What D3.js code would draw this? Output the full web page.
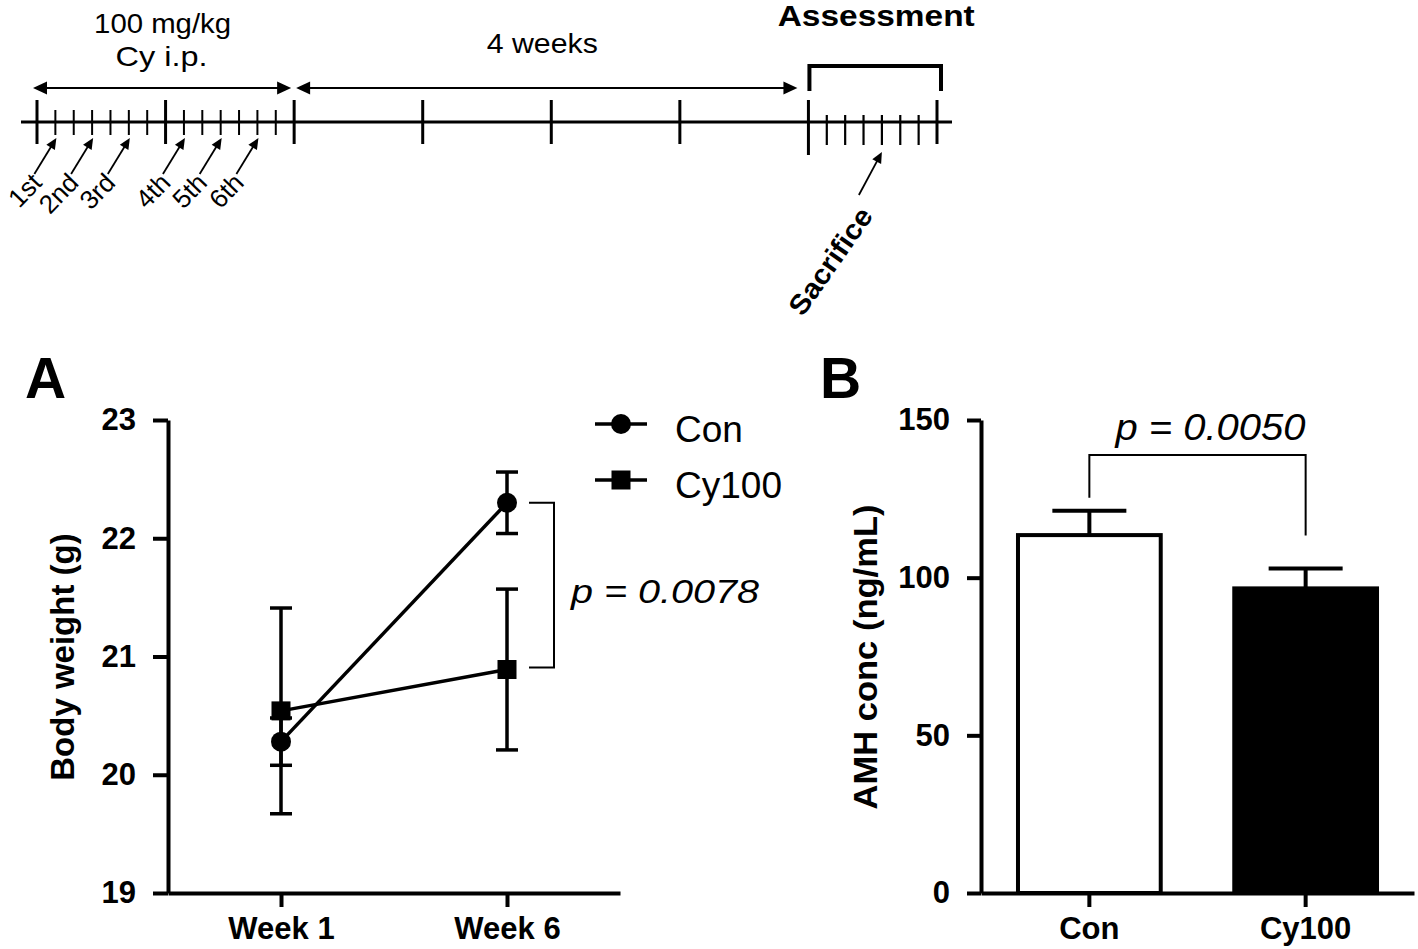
<!DOCTYPE html>
<html><head><meta charset="utf-8">
<script src="https://cdn.jsdelivr.net/npm/d3@7"></script>
<style>
body{margin:0;background:#fff}
svg{display:block}
text{font-family:"Liberation Sans",Arial,Helvetica,sans-serif;fill:#000}
</style>
</head><body>
<svg id="c" width="1418" height="949"></svg>
<script>
// ---------- Panel A data (body weight, mean ± SEM) ----------
const weeks = ["Week 1", "Week 6"];
const conMean = [20.28, 22.30];
const conSem = [0.20, 0.26];
const cyMean = [20.54, 20.89];
const cySem = [0.87, 0.68];
const yTicksA = [19, 20, 21, 22, 23];
const seriesNames = ["Con", "Cy100"];
const pTextA = "p = 0.0078";

// ---------- Panel B data (AMH conc, mean + SEM) ----------
const groups = ["Con", "Cy100"];
const amhMean = [113.5, 96.6];
const amhSem = [7.7, 6.3];
const yTicksB = [0, 50, 100, 150];
const pTextB = "p = 0.0050";

// ---------- Timeline (days) ----------
const totalDays = 49;
const weekDays = [0, 7, 14, 21, 28, 35, 42, 49];
const smallDays = [1, 2, 3, 4, 5, 6, 8, 9, 10, 11, 12, 13];
const assessDays = [43, 44, 45, 46, 47, 48];
const doseDays = [1, 3, 5, 8, 10, 12];
const doseLabels = ["1st", "2nd", "3rd", "4th", "5th", "6th"];
const sacrificeDay = 46;
const phaseCy = [0, 14];
const phaseWait = [14, 42];
const phaseAssess = [42, 49];

const svg = d3.select("#c");

// ================= TIMELINE =================
const T = svg.append("g");
const xT = d3.scaleLinear().domain([0, totalDays]).range([37, 937]);
const lineY = 122;

T.append("line").attr("x1", xT(0) - 16).attr("x2", xT(totalDays) + 15)
  .attr("y1", lineY).attr("y2", lineY).attr("stroke", "#000").attr("stroke-width", 3);

T.selectAll(".bt").data(weekDays).join("line")
  .attr("x1", d => xT(d)).attr("x2", d => xT(d))
  .attr("y1", 100).attr("y2", d => d === phaseAssess[0] ? 155 : 144)
  .attr("stroke", "#000").attr("stroke-width", 3);

T.selectAll(".st").data(smallDays).join("line")
  .attr("x1", d => xT(d)).attr("x2", d => xT(d))
  .attr("y1", 110).attr("y2", 135)
  .attr("stroke", "#000").attr("stroke-width", 2);

T.selectAll(".at").data(assessDays).join("line")
  .attr("x1", d => xT(d)).attr("x2", d => xT(d))
  .attr("y1", 115).attr("y2", 145)
  .attr("stroke", "#000").attr("stroke-width", 2.2);

function head(g, x, y, ang, len, hw) {
  const c = Math.cos(ang), s = Math.sin(ang);
  const bx = x - c * len, by = y - s * len;
  g.append("path")
    .attr("d", `M${x},${y}L${bx - s * hw},${by + c * hw}L${bx + s * hw},${by - c * hw}Z`)
    .attr("fill", "#000");
}
function dblArrow(x1, x2, y) {
  T.append("line").attr("x1", x1 + 8).attr("x2", x2 - 8).attr("y1", y).attr("y2", y)
    .attr("stroke", "#000").attr("stroke-width", 2);
  head(T, x1, y, Math.PI, 14, 6.5);
  head(T, x2, y, 0, 14, 6.5);
}
dblArrow(xT(phaseCy[0]) - 4, xT(phaseCy[1]) - 3, 88);
dblArrow(xT(phaseWait[0]) + 2, xT(phaseWait[1]) - 11, 88);

const midCy = (xT(phaseCy[0]) + xT(phaseCy[1])) / 2;
T.append("text").attr("x", midCy - 3).attr("y", 33).attr("text-anchor", "middle")
  .attr("font-size", 28).attr("textLength", 137).attr("lengthAdjust", "spacingAndGlyphs").text("100 mg/kg");
T.append("text").attr("x", midCy - 4).attr("y", 66).attr("text-anchor", "middle")
  .attr("font-size", 28).attr("textLength", 92).attr("lengthAdjust", "spacingAndGlyphs").text("Cy i.p.");
T.append("text").attr("x", (xT(phaseWait[0]) + xT(phaseWait[1])) / 2 - 9).attr("y", 53)
  .attr("text-anchor", "middle").attr("font-size", 28)
  .attr("textLength", 111).attr("lengthAdjust", "spacingAndGlyphs").text("4 weeks");

// Assessment bracket
const ax1 = xT(phaseAssess[0]) + 1, ax2 = xT(phaseAssess[1]) + 4;
T.append("path").attr("d", `M${ax1},91V66H${ax2}V91`)
  .attr("fill", "none").attr("stroke", "#000").attr("stroke-width", 4);
T.append("text").attr("x", (ax1 + ax2) / 2 + 1).attr("y", 26).attr("text-anchor", "middle")
  .attr("font-size", 30).attr("font-weight", "bold")
  .attr("textLength", 197).attr("lengthAdjust", "spacingAndGlyphs").text("Assessment");

// Dose arrows + labels
doseDays.forEach((d, i) => {
  const tx = xT(d) + 1, ty = 138;
  const sx = tx - 22, sy = 174;
  const ang = Math.atan2(ty - sy, tx - sx);
  T.append("line").attr("x1", sx).attr("y1", sy)
    .attr("x2", tx - Math.cos(ang) * 7).attr("y2", ty - Math.sin(ang) * 7)
    .attr("stroke", "#000").attr("stroke-width", 1.8);
  head(T, tx, ty, ang, 11, 5);
  T.append("text").attr("transform", `translate(${sx + 9},${sy + 10}) rotate(-46)`)
    .attr("text-anchor", "end").attr("font-size", 26).text(doseLabels[i]);
});

// Sacrifice arrow
{
  const tx = xT(sacrificeDay), ty = 152;
  const sx = tx - 23, sy = 195;
  const ang = Math.atan2(ty - sy, tx - sx);
  T.append("line").attr("x1", sx).attr("y1", sy)
    .attr("x2", tx - Math.cos(ang) * 8).attr("y2", ty - Math.sin(ang) * 8)
    .attr("stroke", "#000").attr("stroke-width", 1.8);
  head(T, tx, ty, ang, 11, 5);
  T.append("text").attr("transform", `translate(${sx + 15},${sy + 21}) rotate(-55)`)
    .attr("text-anchor", "end").attr("font-size", 28).attr("font-weight", "bold")
    .attr("textLength", 124).attr("lengthAdjust", "spacingAndGlyphs").text("Sacrifice");
}

// ================= PANEL A =================
const A = svg.append("g");
const yA = d3.scaleLinear().domain([19, 23]).range([893, 420]);
const xA = d3.scalePoint().domain(weeks).range([168, 620]).padding(0.5);

A.append("text").attr("x", 25).attr("y", 398).attr("font-size", 57).attr("font-weight", "bold").text("A");

const yAxA = A.append("g").attr("transform", "translate(168,0)")
  .call(d3.axisLeft(yA).tickValues(yTicksA).tickFormat(d3.format("d")).tickSize(15).tickSizeOuter(0).tickPadding(17));
const xAxA = A.append("g").attr("transform", "translate(0,893)")
  .call(d3.axisBottom(xA).tickSize(14).tickSizeOuter(0).tickPadding(10));
[yAxA, xAxA].forEach(g => {
  g.select(".domain").attr("stroke-width", 4).attr("stroke", "#000");
  g.selectAll(".tick line").attr("stroke-width", 4).attr("stroke", "#000");
  g.selectAll(".tick text").attr("font-family", '"Liberation Sans",Arial,sans-serif')
    .attr("font-weight", "bold").attr("fill", "#000");
});
yAxA.selectAll(".tick text").attr("font-size", 31);
xAxA.selectAll(".tick text").attr("font-size", 31).attr("dy", "0.72em");

A.append("text").attr("transform", "translate(74,657) rotate(-90)").attr("text-anchor", "middle")
  .attr("font-size", 33).attr("font-weight", "bold").text("Body weight (g)");

// error bars
function errA(means, sems) {
  weeks.forEach((w, i) => {
    const x = xA(w), lo = yA(means[i] - sems[i]), hi = yA(means[i] + sems[i]);
    A.append("line").attr("x1", x).attr("x2", x).attr("y1", lo).attr("y2", hi)
      .attr("stroke", "#000").attr("stroke-width", 3.5);
    [lo, hi].forEach(yy => A.append("line").attr("x1", x - 11).attr("x2", x + 11)
      .attr("y1", yy).attr("y2", yy).attr("stroke", "#000").attr("stroke-width", 3.5));
  });
}
errA(cyMean, cySem);
errA(conMean, conSem);

const lineGen = d3.line().x((d, i) => xA(weeks[i])).y(d => yA(d));
A.append("path").datum(cyMean).attr("d", lineGen).attr("fill", "none").attr("stroke", "#000").attr("stroke-width", 3.5);
A.append("path").datum(conMean).attr("d", lineGen).attr("fill", "none").attr("stroke", "#000").attr("stroke-width", 3.5);

A.selectAll(".sq").data(cyMean).join("rect")
  .attr("x", (d, i) => xA(weeks[i]) - 9.5).attr("y", d => yA(d) - 9.5)
  .attr("width", 19).attr("height", 19).attr("fill", "#000");
A.selectAll(".ci").data(conMean).join("circle")
  .attr("cx", (d, i) => xA(weeks[i])).attr("cy", d => yA(d)).attr("r", 10).attr("fill", "#000");

// significance bracket A
{
  const xb = xA(weeks[1]) + 22, xe = xb + 25;
  const y1 = yA(conMean[1]), y2 = yA(cyMean[1]) - 2;
  A.append("path").attr("d", `M${xb},${y1}H${xe}V${y2}H${xb}`)
    .attr("fill", "none").attr("stroke", "#000").attr("stroke-width", 2);
  A.append("text").attr("x", xe + 17).attr("y", (y1 + y2) / 2 + 18)
    .attr("font-size", 34).attr("font-style", "italic")
    .attr("textLength", 188).attr("lengthAdjust", "spacingAndGlyphs").text(pTextA);
}

// legend
seriesNames.forEach((n, i) => {
  const ly = 424 + i * 56;
  A.append("line").attr("x1", 595).attr("x2", 647).attr("y1", ly).attr("y2", ly)
    .attr("stroke", "#000").attr("stroke-width", 3.5);
  if (i === 0) A.append("circle").attr("cx", 621).attr("cy", ly).attr("r", 10).attr("fill", "#000");
  else A.append("rect").attr("x", 611.5).attr("y", ly - 9.5).attr("width", 19).attr("height", 19).attr("fill", "#000");
  A.append("text").attr("x", 675).attr("y", ly + 18).attr("font-size", 37).text(n);
});

// ================= PANEL B =================
const B = svg.append("g");
const yB = d3.scaleLinear().domain([0, 150]).range([893, 420]);
const xB = d3.scaleBand().domain(groups).range([981, 1414]).paddingInner(0.34).paddingOuter(0.171);

B.append("text").attr("x", 820).attr("y", 398).attr("font-size", 57).attr("font-weight", "bold").text("B");

B.selectAll(".bar").data(amhMean).join("rect")
  .attr("x", (d, i) => xB(groups[i])).attr("y", d => yB(d))
  .attr("width", xB.bandwidth()).attr("height", d => yB(0) - yB(d))
  .attr("fill", (d, i) => i === 0 ? "#fff" : "#000")
  .attr("stroke", "#000").attr("stroke-width", 4);

amhMean.forEach((m, i) => {
  const cx = xB(groups[i]) + xB.bandwidth() / 2;
  const top = yB(m + amhSem[i]);
  B.append("line").attr("x1", cx).attr("x2", cx).attr("y1", yB(m)).attr("y2", top)
    .attr("stroke", "#000").attr("stroke-width", 4);
  B.append("line").attr("x1", cx - 37).attr("x2", cx + 37).attr("y1", top).attr("y2", top)
    .attr("stroke", "#000").attr("stroke-width", 4);
});

const yAxB = B.append("g").attr("transform", "translate(981,0)")
  .call(d3.axisLeft(yB).tickValues(yTicksB).tickSize(14).tickSizeOuter(0).tickPadding(17));
const xAxB = B.append("g").attr("transform", "translate(0,893)")
  .call(d3.axisBottom(xB).tickSize(14).tickSizeOuter(0).tickPadding(10));
[yAxB, xAxB].forEach(g => {
  g.select(".domain").attr("stroke-width", 4).attr("stroke", "#000");
  g.selectAll(".tick line").attr("stroke-width", 4).attr("stroke", "#000");
  g.selectAll(".tick text").attr("font-family", '"Liberation Sans",Arial,sans-serif')
    .attr("font-weight", "bold").attr("fill", "#000");
});
yAxB.selectAll(".tick text").attr("font-size", 31);
xAxB.selectAll(".tick text").attr("font-size", 31).attr("dy", "0.72em");

B.append("text").attr("transform", "translate(877,657) rotate(-90)").attr("text-anchor", "middle")
  .attr("font-size", 34).attr("font-weight", "bold")
  .attr("textLength", 305).attr("lengthAdjust", "spacingAndGlyphs").text("AMH conc (ng/mL)");

// significance bracket B
{
  const x1 = xB(groups[0]) + xB.bandwidth() / 2, x2 = xB(groups[1]) + xB.bandwidth() / 2;
  const yb = 455;
  B.append("path").attr("d", `M${x1},${yB(amhMean[0] + amhSem[0]) - 13}V${yb}H${x2}V${yB(amhMean[1]) - 53}`)
    .attr("fill", "none").attr("stroke", "#000").attr("stroke-width", 2);
  B.append("text").attr("x", (x1 + x2) / 2 + 13).attr("y", 440).attr("text-anchor", "middle")
    .attr("font-size", 37).attr("font-style", "italic")
    .attr("textLength", 190).attr("lengthAdjust", "spacingAndGlyphs").text(pTextB);
}
</script>
</body></html>
